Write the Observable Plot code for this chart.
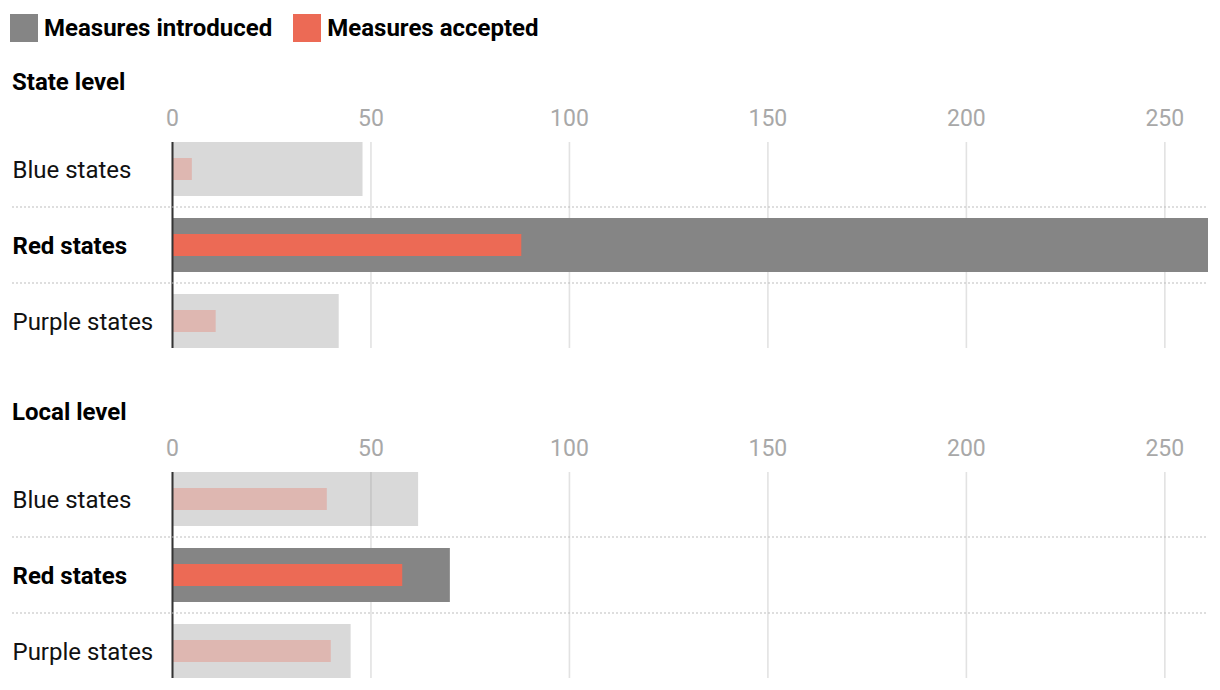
<!DOCTYPE html>
<html>
<head>
<meta charset="utf-8">
<script src="https://cdn.jsdelivr.net/npm/d3@7"></script>
<script src="https://cdn.jsdelivr.net/npm/@observablehq/plot@0.6"></script>
<style>
  body { margin:0; background:#fff; font-family: Roboto, "Noto Sans", sans-serif; width:1220px; height:690px; position:relative; overflow:hidden; }
  .legend { position:absolute; left:10px; top:14px; display:flex; align-items:center; font-weight:bold; font-size:24px; line-height:28px; color:#000; }
  .sw { width:28px; height:28px; display:inline-block; margin-right:6px; }
  .item { display:flex; align-items:center; margin-right:21px; }
  .title { position:absolute; left:12px; font-weight:bold; font-size:24px; line-height:26px; color:#000; }
  .panel { position:absolute; left:0; }
</style>
</head>
<body>
<div class="legend" id="legend"></div>
<div class="title" style="top:69px">State level</div>
<div class="panel" id="p1" style="top:100px"></div>
<div class="title" style="top:399px">Local level</div>
<div class="panel" id="p2" style="top:430px"></div>
<script>
const groups = ["Blue states", "Red states", "Purple states"];
const stateIntroduced = [48, 261, 42];
const stateAccepted = [5, 88, 11];
const localIntroduced = [62, 70, 45];
const localAccepted = [39, 58, 40];
const xTicks = [0, 50, 100, 150, 200, 250];
const xMax = 261;
const highlight = "Red states";
const seriesNames = ["Measures introduced", "Measures accepted"];
const seriesColors = ["#858585", "#ec6a55"];

const legend = document.getElementById("legend");
seriesNames.forEach((n, i) => {
  const it = document.createElement("div");
  it.className = "item";
  it.innerHTML = `<span class="sw" style="background:${seriesColors[i]}"></span><span>${n}</span>`;
  legend.appendChild(it);
});

const padInner = 22 / 76;

function panel(intro, acc) {
  const rows = groups.map((g, i) => ({group: g, introduced: intro[i], accepted: acc[i], hi: g === highlight}));
  const faded = rows.filter(d => !d.hi);
  const strong = rows.filter(d => d.hi);
  const separators = (index, scales, values, dims) => {
    const g = d3.create("svg:g");
    const y = scales.y;
    for (let i = 1; i < groups.length; i++) {
      const step = y(groups[i]) - y(groups[i - 1]);
      const yy = y(groups[i]) - step * padInner / 2;
      g.append("line")
        .attr("x1", 12).attr("x2", dims.width - dims.marginRight)
        .attr("y1", yy).attr("y2", yy)
        .attr("stroke", "#bdbdbd").attr("stroke-width", 1.2)
        .attr("stroke-dasharray", "2,2");
    }
    return g.node();
  };
  return Plot.plot({
    width: 1220, height: 248,
    marginTop: 42, marginBottom: 0, marginLeft: 172, marginRight: 12,
    style: {fontFamily: "Roboto, sans-serif", background: "white", overflow: "visible"},
    x: {domain: [0, xMax], label: null},
    y: {domain: groups, paddingInner: padInner, paddingOuter: 0, axis: null, label: null},
    marks: [
      Plot.ruleX(xTicks, {stroke: "#e2e2e2", strokeWidth: 1.6}),
      Plot.axisX({anchor: "top", ticks: xTicks, tickSize: 0, tickPadding: 17, color: "#a8a8a8", fontSize: 23, label: null}),
      Plot.barX(faded, {x: "introduced", y: "group", fill: seriesColors[0], fillOpacity: 0.31}),
      Plot.barX(faded, {x: "accepted", y: "group", fill: seriesColors[1], fillOpacity: 0.3, insetTop: 16, insetBottom: 16}),
      Plot.barX(strong, {x: "introduced", y: "group", fill: seriesColors[0]}),
      Plot.barX(strong, {x: "accepted", y: "group", fill: seriesColors[1], insetTop: 16, insetBottom: 16}),
      Plot.ruleX([0], {stroke: "#333", strokeWidth: 2}),
      separators,
      Plot.text(faded, {y: "group", text: "group", frameAnchor: "left", dx: -160, dy: 1, textAnchor: "start", fontSize: 24, fill: "#111"}),
      Plot.text(strong, {y: "group", text: "group", frameAnchor: "left", dx: -160, dy: 1, textAnchor: "start", fontSize: 24, fontWeight: "bold", fill: "#000"})
    ]
  });
}

document.getElementById("p1").appendChild(panel(stateIntroduced, stateAccepted));
document.getElementById("p2").appendChild(panel(localIntroduced, localAccepted));
</script>
</body>
</html>
